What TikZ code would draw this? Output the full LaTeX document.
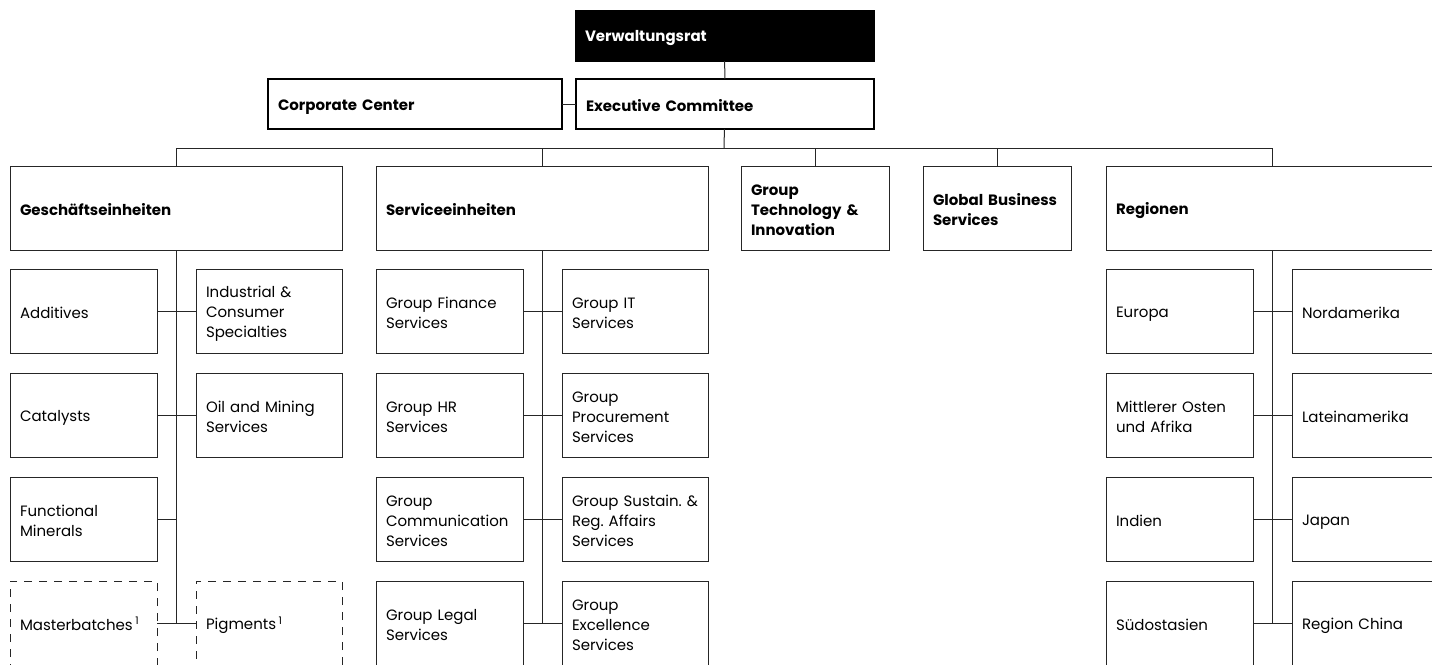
\documentclass[tikz,border=0pt]{standalone}
\usepackage{fontspec}
\setmainfont{Poppins}
\usetikzlibrary{positioning}
\frenchspacing

\tikzset{
  orgbox/.style={draw=black!85, line width=1pt, anchor=north west, outer sep=0pt, inner xsep=10pt, inner ysep=0pt,
    align=left, text width=#1, minimum height=84pt, font=\fontsize{15}{20}\selectfont,
    execute at begin node=\rule{0pt}{17pt}, execute at end node=\rule[-3pt]{0pt}{3pt}},
  headbox/.style={orgbox=#1, font=\fontsize{15}{20}\selectfont\bfseries},
  topbox/.style={orgbox=#1, draw=black, line width=2.5pt, minimum height=50pt, font=\fontsize{15}{20}\selectfont\bfseries},
  plannedbox/.style={orgbox=#1, dash pattern=on 8pt off 7pt, dash phase=4pt},
  link/.style={draw=black!85, line width=1pt}
}

\begin{document}
\begin{tikzpicture}[x=1pt, y=-1pt]
  \clip (0,0) rectangle (1432,664);

  \node[topbox=279pt, fill=black, text=white, line width=1pt, minimum height=51pt] (vr) at (575,10) {Verwaltungsrat};
  \node[topbox=274pt] (cc) at (268,79) {Corporate Center};
  \node[topbox=278pt] (ec) at (576,79) {Executive Committee};

  \node[headbox=312pt] (ge) at (10,166) {Geschäftseinheiten};
  \node[headbox=312pt] (se) at (376,166) {Serviceeinheiten};
  \node[headbox=128pt] (gti) at (741,166) {Group\\Technology \&\\Innovation};
  \node[headbox=128pt] (gbs) at (923,166) {Global Business\\Services};
  \node[headbox=312pt] (reg) at (1106,166) {Regionen};

  \node[orgbox=127pt] (add) at (10,269) {Additives};
  \node[orgbox=126pt] (ics) at (196,269) {Industrial \&\\Consumer\\Specialties};
  \node[orgbox=127pt] (cat) at (10,373) {Catalysts};
  \node[orgbox=126pt] (oms) at (196,373) {Oil and Mining\\Services};
  \node[orgbox=127pt] (fm) at (10,477) {Functional\\Minerals};
  \node[plannedbox=127pt] (mb) at (10,581) {Masterbatches\,\textsuperscript{1}};
  \node[plannedbox=126pt] (pig) at (196,581) {Pigments\,\textsuperscript{1}};

  \node[orgbox=127pt] (gfs) at (376,269) {Group Finance\\Services};
  \node[orgbox=126pt] (git) at (562,269) {Group IT\\Services};
  \node[orgbox=127pt] (ghr) at (376,373) {Group HR\\Services};
  \node[orgbox=126pt] (gps) at (562,373) {Group\\Procurement\\Services};
  \node[orgbox=127pt] (gcs) at (376,477) {Group\\Communication\\Services};
  \node[orgbox=126pt] (gsr) at (562,477) {\mbox{Group Sustain. \&}\\Reg. Affairs\\Services};
  \node[orgbox=127pt] (gls) at (376,581) {Group Legal\\Services};
  \node[orgbox=126pt] (ges) at (562,581) {Group\\Excellence\\Services};

  \node[orgbox=127pt] (eu) at (1106,269) {Europa};
  \node[orgbox=126pt] (na) at (1292,269) {Nordamerika};
  \node[orgbox=127pt] (mea) at (1106,373) {Mittlerer Osten\\und Afrika};
  \node[orgbox=126pt] (la) at (1292,373) {Lateinamerika};
  \node[orgbox=127pt] (ind) at (1106,477) {Indien};
  \node[orgbox=126pt] (jp) at (1292,477) {Japan};
  \node[orgbox=127pt] (sea) at (1106,581) {Südostasien};
  \node[orgbox=126pt] (cn) at (1292,581) {Region China};

  \coordinate (bus) at (724,148);

  \draw[link] (vr) -- (ec);
  \draw[link] (cc) -- (ec);
  \draw[link] (ec) -- (bus);
  \draw[link] (ge.north) |- (bus -| reg.north) -- (reg.north);
  \foreach \n in {se, gti, gbs}
    \draw[link] (\n.north) -- (\n.north |- bus);

  \draw[link] (ge.south) -- (ge.south |- mb.east);
  \draw[link] (add) -- (ics);
  \draw[link] (cat) -- (oms);
  \draw[link] (fm.east) -- (fm.east -| ge.south);
  \draw[link] (mb) -- (pig);

  \draw[link] (se.south) -- (se.south |- gls.east);
  \draw[link] (gfs) -- (git);
  \draw[link] (ghr) -- (gps);
  \draw[link] (gcs) -- (gsr);
  \draw[link] (gls) -- (ges);

  \draw[link] (reg.south) -- (reg.south |- sea.east);
  \draw[link] (eu) -- (na);
  \draw[link] (mea) -- (la);
  \draw[link] (ind) -- (jp);
  \draw[link] (sea) -- (cn);
\end{tikzpicture}
\end{document}
